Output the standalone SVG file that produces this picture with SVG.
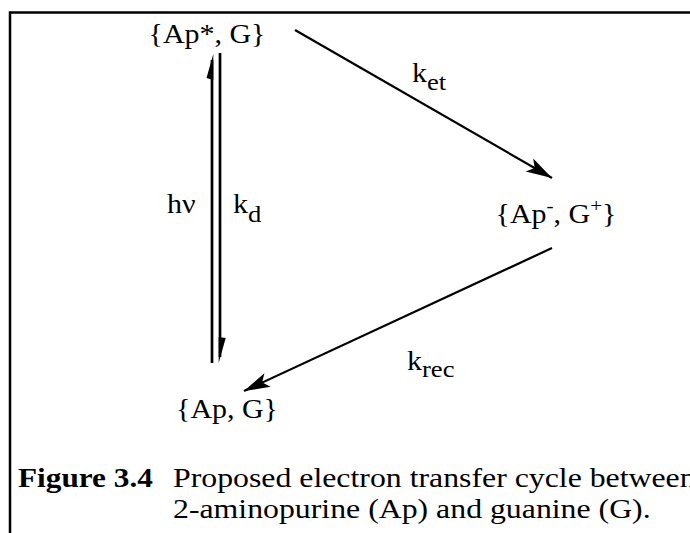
<svg xmlns="http://www.w3.org/2000/svg" width="690" height="533" viewBox="0 0 690 533">
<style>
  text { font-family: "Liberation Serif", "Times New Roman", serif; fill: #000; }
  .lbl { font-size: 27px; }
  .sub { font-size: 24px; }
  .sup { font-size: 19px; }
  .cap { font-size: 26.5px; }
  .line { stroke: #000; fill: none; }
</style>
<defs>
  <marker id="head" markerUnits="userSpaceOnUse" markerWidth="30" markerHeight="20" viewBox="-28 -10 30 20" refX="0" refY="0" orient="auto">
    <path d="M0,0 L-26,-7.5 L-20,0 L-26,7.5 Z" fill="#000"/>
  </marker>
</defs>
<rect width="690" height="533" fill="#fff"/>
<g id="frame">
  <path class="line" d="M10,533 V12.5 H690" stroke-width="2.5"/>
</g>
<g id="connectors">
  <line class="line" x1="295" y1="30" x2="552" y2="178" stroke-width="2.2" marker-end="url(#head)"/>
  <line class="line" x1="552" y1="248" x2="244" y2="391" stroke-width="2.2" marker-end="url(#head)"/>
  <line class="line" x1="212" y1="60" x2="212" y2="363" stroke-width="2.7"/>
  <polygon points="213.3,54 213.3,80 206.5,78" fill="#000"/>
  <line class="line" x1="220" y1="53" x2="220" y2="357" stroke-width="2.7"/>
  <polygon points="218.7,363 218.7,337 225.7,338" fill="#000"/>
</g>
<g id="n-apstar">
  <text class="lbl" transform="translate(207 43) scale(1.11 1)" text-anchor="middle">{Ap*, G}</text>
</g>
<g id="n-apion">
  <text class="lbl" transform="translate(556 223) scale(1.11 1)" text-anchor="middle">{Ap<tspan class="sup" dy="-11">-</tspan><tspan dy="11">, G</tspan><tspan class="sup" dy="-11">+</tspan><tspan dy="11">}</tspan></text>
</g>
<g id="n-apg">
  <text class="lbl" transform="translate(227 418) scale(1.11 1)" text-anchor="middle">{Ap, G}</text>
</g>
<g id="labels">
  <text class="lbl" transform="translate(412 82) scale(1.11 1)">k<tspan class="sub" dy="8">et</tspan></text>
  <text class="lbl" transform="translate(167 213) scale(1.11 1)">hν</text>
  <text class="lbl" transform="translate(233 213) scale(1.11 1)">k<tspan class="sub" dy="9">d</tspan></text>
  <text class="lbl" transform="translate(407 370) scale(1.11 1)">k<tspan class="sub" dy="7">rec</tspan></text>
</g>
<g id="caption">
  <text class="cap" font-weight="bold" transform="translate(18 487) scale(1.18 1)">Figure 3.4</text>
  <text class="cap" transform="translate(173 487) scale(1.2 1)">Proposed electron transfer cycle between</text>
  <text class="cap" transform="translate(173 518) scale(1.2 1)">2-aminopurine (Ap) and guanine (G).</text>
</g>
</svg>
